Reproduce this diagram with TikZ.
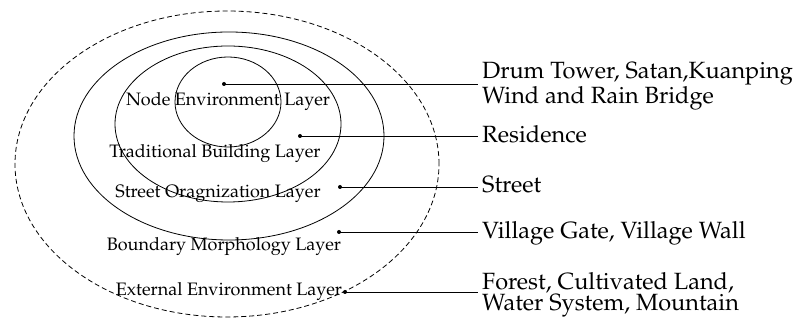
\documentclass[tikz,border=0pt]{standalone}
\usepackage[T1]{fontenc}
\usepackage{mathpazo}
\begin{document}
\begin{tikzpicture}[x=1pt,y=1pt,
  ring/.style={draw=black, line width=0.8pt},
  pin/.style={circle, fill=black, inner sep=0pt, minimum size=4pt},
  lead/.style={draw=black, line width=0.6pt},
  layer/.style={font=\fontsize{18}{20}\selectfont, anchor=base, inner sep=0pt},
  item/.style={font=\fontsize{23.5}{20}\selectfont, align=left, inner sep=0pt}]
\useasboundingbox (0,0) rectangle (797,320);
% nested layers
\draw[ring, dash pattern=on 5pt off 3pt] (227,156) ellipse [x radius=212, y radius=153];
\draw[ring] (229,184) ellipse [x radius=155, y radius=104];
\draw[ring] (228,196) ellipse [x radius=113, y radius=78];
\draw[ring] (228,218) ellipse [x radius=53, y radius=45];
% layer names
\node[layer] (n1) at (228,214) {Node Environment Layer};
\node[layer] (n2) at (215,162) {Traditional Building Layer};
\node[layer] (n3) at (218,122) {Street Oragnization Layer};
\node[layer] (n4) at (224,69) {Boundary Morphology Layer};
\node[layer] (n5) at (229,24) {External Environment Layer};
% pins
\node[pin] (d1) at (224,236) {};
\node[pin] (d2) at (300,184) {};
\node[pin] (d3) at (340,133) {};
\node[pin] (d4) at (339,88) {};
\node[pin] (d5) at (345,28) {};
% leader ends
\coordinate (e1) at (478,236);
\coordinate (e2) at (478,184);
\coordinate (e3) at (478,133);
\coordinate (e4) at (478,88);
\coordinate (e5) at (478,28);
\draw[lead] (d1.center) -- (e1);
\draw[lead] (d2.center) -- (e2);
\draw[lead] (d3.center) -- (e3);
\draw[lead] (d4.center) -- (e4);
\draw[lead] (d5.center) -- (e5);
% examples
\node[item, anchor=west] (t1) at (482,234) {Drum Tower, Satan,Kuanping\\Wind and Rain Bridge};
\node[item, anchor=base west] (t2) at (482,177) {Residence};
\node[item, anchor=base west] (t3) at (482,127) {Street};
\node[item, anchor=base west] (t4) at (482,81) {Village Gate, Village Wall};
\node[item, anchor=west] (t5) at (482,25) {Forest, Cultivated Land,\\Water System, Mountain};
\end{tikzpicture}
\end{document}
